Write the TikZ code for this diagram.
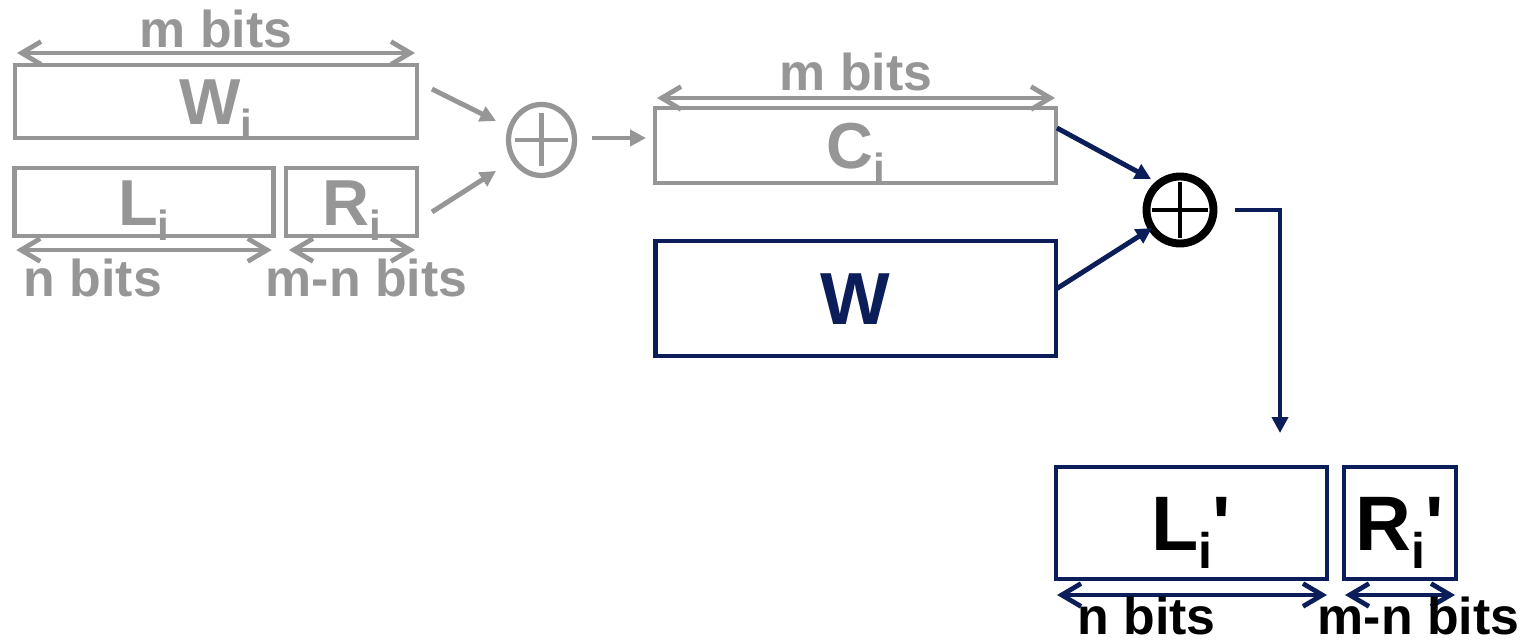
\documentclass[tikz,border=0pt]{standalone}
\usepackage{fontspec}
\setmainfont{Liberation Sans}[Ligatures=TeXOff]
\usetikzlibrary{arrows.meta,shapes.geometric,calc}
\definecolor{fadegray}{RGB}{150,150,150}
\definecolor{navy}{RGB}{12,30,90}
% lowered subscript i
\newcommand{\lowi}[1]{\raisebox{-0.23em}{\fontsize{#1}{#1}\selectfont i}}
\tikzset{
  oldbox/.style={draw=fadegray, line width=2.7pt, text=fadegray, inner sep=0pt, outer sep=0pt,
    font=\bfseries\fontsize{37}{37}\selectfont, text height=26.5pt, text depth=0pt},
  newbox/.style={draw=navy, line width=2.8pt, inner sep=0pt, outer sep=0pt,
    font=\bfseries\fontsize{44}{44}\selectfont, text height=31.5pt, text depth=0pt},
  bits/.style={font=\bfseries\fontsize{29.5}{29.5}\selectfont, inner sep=0pt, anchor=base},
  span/.style={{Straight Barb[length=11pt,width=13pt]}-{Straight Barb[length=11pt,width=13pt]}, line width=2.7pt},
  feed/.style={-{Triangle[length=9pt,width=9pt]}, line width=2.8pt},
  xorold/.style={ellipse, draw=fadegray, line width=3pt, inner sep=0pt,
    minimum width=1.32cm, minimum height=1.42cm,
    path picture={\draw[fadegray, line width=2.6pt]
      ([xshift=-0.53cm]path picture bounding box.center) -- ([xshift=0.53cm]path picture bounding box.center)
      ([yshift=-0.53cm]path picture bounding box.center) -- ([yshift=0.53cm]path picture bounding box.center);}},
  xornew/.style={circle, draw=black, line width=4.5pt, inner sep=0pt, minimum size=1.34cm,
    path picture={\draw[black, line width=2.8pt]
      ([xshift=-0.56cm]path picture bounding box.center) -- ([xshift=0.56cm]path picture bounding box.center)
      ([yshift=-0.56cm]path picture bounding box.center) -- ([yshift=0.56cm]path picture bounding box.center);}}
}
\begin{document}
\begin{tikzpicture}[x=0.02cm, y=-0.02cm]
    \useasboundingbox (0,0) rectangle (1528,644);

    % Old block W_i and its halves
    \node[oldbox, minimum width=8.04cm, minimum height=1.46cm] (Wi) at (216,101.5) {W\lowi{24}};
    \node[oldbox, minimum width=5.19cm, minimum height=1.36cm] (Li) at (144,202) {L\lowi{24}};
    \node[oldbox, minimum width=2.62cm, minimum height=1.36cm] (Ri) at (351.5,202) {R\lowi{24}};

    % Widths of the old block
    \draw[span, fadegray] ($(Wi.north west)+(2,-12)$) -- ($(Wi.north east)+(-2,-12)$);
    \draw[span, fadegray] ($(Li.south west)+(2,14)$) -- ($(Li.south east)+(-2,14)$);
    \draw[span, fadegray] ($(Ri.south west)+(3,14)$) -- ($(Ri.south east)+(-2,14)$);
    \node[bits, text=fadegray] (mbitsW) at (216,48) {m bits};
    \node[bits, text=fadegray] (nbitsL) at (93,297) {n bits};
    \node[bits, text=fadegray] (mnbitsR) at (366.5,297) {m-n bits};

    % First XOR gives C_i
    \node[xorold] (xorA) at (541.5,140) {};
    \node[oldbox, minimum width=8.02cm, minimum height=1.5cm] (Ci) at (855.5,145.5) {C\lowi{24}};
    \draw[span, fadegray] ($(Ci.north west)+(2,-10)$) -- ($(Ci.north east)+(-1,-10)$);
    \node[bits, text=fadegray] (mbitsC) at (856,91) {m bits};
    \draw[feed, fadegray] ($(Wi.east)+(15,-12.5)$) -- ($(xorA)+(-45.5,-19)$);
    \draw[feed, fadegray] ($(Ri.east)+(15,10)$) -- ($(xorA)+(-45.5,31)$);
    \draw[feed, fadegray] ($(xorA)+(50.5,-2)$) -- ($(Ci.west)+(-9,-7.5)$);

    % Second XOR with W
    \node[newbox, text=navy, minimum width=8.02cm, minimum height=2.3cm,
      font=\bfseries\fontsize{42}{42}\selectfont, text height=30pt] (W) at (855.5,298.5) {W};
    \node[xornew] (xorB) at (1180,210) {};

    % New halves
    \node[newbox, minimum width=5.42cm, minimum height=2.24cm] (Lp) at (1191.5,523) {L\lowi{28.5}'};
    \node[newbox, minimum width=2.24cm, minimum height=2.24cm] (Rp) at (1400,523) {R\lowi{28.5}'};
    \draw[span, navy] ($(Lp.south west)+(1,16)$) -- ($(Lp.south east)+(0,16)$);
    \draw[span, navy] ($(Rp.south west)+(1,16)$) -- ($(Rp.south east)+(-1,16)$);
    \node[bits] (nbitsLp) at (1146.5,635) {n bits};
    \node[bits] (mnbitsRp) at (1418.5,635) {m-n bits};

    \draw[feed, navy] ($(Ci.east)+(1,-17.5)$) -- ($(xorB)+(-29,-31)$);
    \draw[feed, navy] ($(W.east)+(1,-10)$) -- ($(xorB)+(-28,18)$);
    \draw[feed, navy] ($(xorB.east)+(18,0)$) -| ($(Lp.north)+(88.5,-34)$);
\end{tikzpicture}
\end{document}
